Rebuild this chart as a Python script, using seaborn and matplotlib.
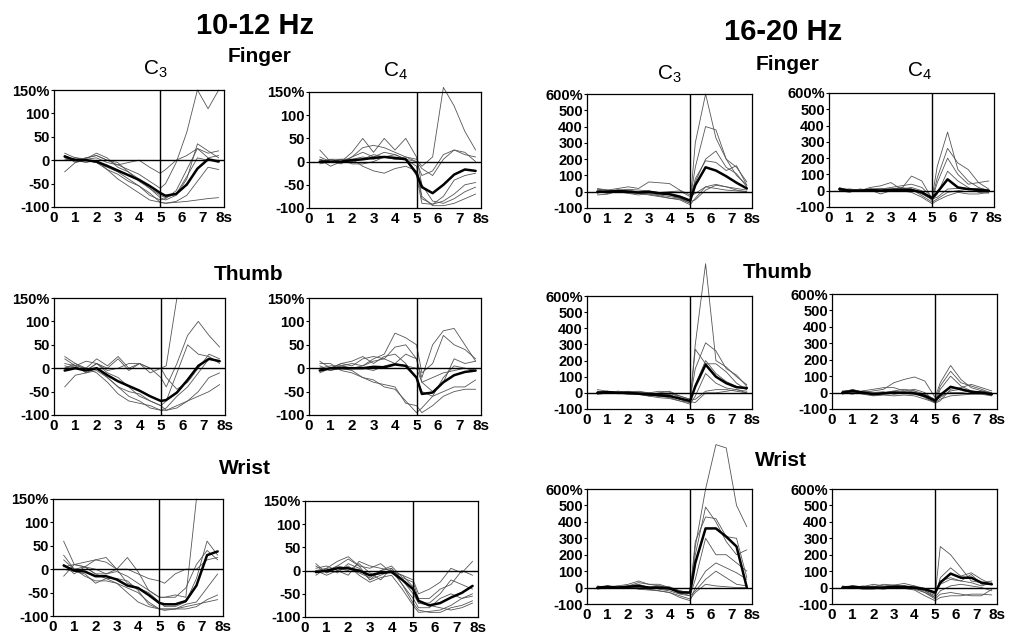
import numpy as np
import pandas as pd
import matplotlib
matplotlib.use('Agg')
import matplotlib.pyplot as plt
import seaborn as sns

sns.set_style('white')
plt.rcParams['font.family'] = ['Liberation Sans', 'DejaVu Sans']
plt.rcParams['mathtext.default'] = 'regular'
for key in ['text.color', 'axes.labelcolor', 'xtick.color', 'ytick.color']:
    plt.rcParams[key] = 'black'

nan = np.nan
# time points (s) shared by all curves
TIME = [0.5, 1.0, 1.5, 2.0, 2.5, 3.0, 3.5, 4.0, 4.5, 5.0, 5.25, 5.75, 6.25, 6.75, 7.25, 7.75]

# ---------------- 10-12 Hz ----------------
alpha_finger_c3_mean = [8, 0, 0, -3, -12, -22, -32, -42, -55, -70, -76, -72, -52, -18, 2, -3]
alpha_finger_c3 = [
    [0, 5, 2, 5, -5, -10, -20, -30, -45, -60, -50, -5, 60, 150, 110, 150],
    [10, 0, 5, 10, 0, -10, -5, 0, -15, -28, -20, 0, 10, 25, 5, 10],
    [-25, -5, 0, -5, -20, -40, -55, -70, -85, -90, -92, -90, -88, -85, -82, -80],
    [15, 5, 3, 15, 5, -15, -25, -40, -60, -80, -85, -75, -40, 35, 20, 5],
    [5, 0, -5, 0, -20, -30, -45, -55, -75, -85, -82, -65, -20, 25, 15, 20],
    [0, 5, 0, -5, -15, -25, -40, -55, -70, -90, -92, -88, -75, -45, -15, -20],
    [10, -5, 5, 10, 0, -5, -25, -45, -60, -75, -80, -72, -35, 5, 0, 0],
]
alpha_finger_c4_mean = [0, 0, 0, 3, 5, 8, 10, 8, 5, -25, -55, -68, -50, -28, -17, -20]
alpha_finger_c4 = [
    [25, 0, 5, 5, 10, 5, 10, 5, 10, 5, -10, 10, 160, 120, 65, 25],
    [0, 5, 0, 20, 50, 20, 50, 25, 50, 10, -50, -85, -90, -80, -65, -55],
    [5, 0, -5, 10, 30, 35, 30, 20, 10, 0, -30, -20, 15, 25, 15, 10],
    [0, 5, 5, 5, -10, -20, -25, -15, -10, -20, -80, -92, -85, -70, -50, -45],
    [10, 0, 0, 0, 5, 15, 10, 15, 5, -30, -90, -92, -75, -40, -30, -25],
    [5, -10, 0, 10, 20, 10, 20, 15, 5, 0, -15, -30, 5, 25, 20, 0],
    [-5, 0, 5, -5, -5, 0, 10, 5, 5, -10, -75, -95, -95, -90, -80, -70],
]
alpha_thumb_c3_mean = [-5, 0, -5, 0, -15, -28, -38, -48, -60, -70, -68, -52, -25, 5, 20, 15]
alpha_thumb_c3 = [
    [10, 5, 0, 20, 5, 25, 0, 10, 0, 0, 5, 150, nan, nan, nan, nan],
    [25, 10, -5, 10, 0, 20, -5, 10, 0, -20, -40, 10, 70, 100, 70, 45],
    [-40, -15, -10, -5, -20, -40, -50, -55, -70, -80, -70, -10, 50, 30, 25, 10],
    [0, 10, 0, -10, -30, -55, -70, -75, -80, -90, -90, -85, -70, -50, -20, -10],
    [5, 0, -5, 10, -10, -20, -40, -60, -70, -80, -90, -80, -70, -60, -50, -35],
    [20, 5, -10, 0, -20, -40, -60, -70, -85, -90, -85, -60, -40, -10, 20, 15],
    [0, 5, 15, 10, -5, 0, 10, 10, -10, 0, -20, -45, -30, 0, 30, 20],
]
alpha_thumb_c4_mean = [-5, 0, 0, 0, 0, 3, 2, 8, 5, -20, -55, -52, -30, -15, -8, -5]
alpha_thumb_c4 = [
    [15, 0, 10, 5, 20, 25, 20, 10, 30, 20, -20, 50, 80, 85, 50, 15],
    [0, 5, 5, 10, 5, 20, 30, 75, 65, 50, -10, 10, 70, 50, 40, 20],
    [-10, 0, 5, 0, 5, 15, 20, 45, 50, 20, -30, -50, -30, 20, 10, 15],
    [5, -5, 0, -5, -20, -25, -40, -45, -70, -95, -85, -60, -50, -40, -40, -25],
    [10, 10, -5, -10, -20, -30, -35, -40, -75, -80, -95, -80, -60, -50, -45, -45],
    [-5, 0, 10, 15, 25, 10, 25, 30, 10, -20, -50, -60, -20, 5, 0, -5],
    [0, -5, 5, 0, 0, -5, 5, 10, 5, 0, -30, -20, -10, -5, 0, -5],
]
alpha_wrist_c3_mean = [8, -3, -5, -15, -15, -22, -35, -40, -55, -72, -75, -75, -68, -35, 30, 38]
alpha_wrist_c3 = [
    [20, 0, 5, 0, -10, -5, -15, -30, -45, -60, -60, -55, -60, 150, nan, nan],
    [60, 10, 5, 20, 15, 0, -30, -40, -50, -70, -80, -80, -70, -20, 60, 30],
    [-15, 10, 15, 20, 25, 0, 0, -10, -20, -25, -30, -10, 0, 0, 20, 25],
    [10, -10, 5, -10, -10, 0, 25, -5, -45, -60, -60, -60, -40, 10, 40, 20],
    [30, 0, -15, -25, -25, -30, -40, -50, -70, -85, -85, -85, -80, -75, -70, -65],
    [0, -5, -10, -30, -20, -20, -25, -45, -75, -85, -88, -85, -75, -70, -40, -10],
    [5, 10, 5, -10, -20, -30, -50, -70, -80, -85, -85, -85, -85, -80, -65, -55],
]
alpha_wrist_c4_mean = [-3, 0, 5, 5, 0, -10, -5, -3, -20, -40, -65, -75, -70, -58, -48, -33]
alpha_wrist_c4 = [
    [15, -5, 10, 25, 10, 5, 15, -5, -10, -20, -50, -40, -25, 5, -5, 20],
    [-10, 5, 20, 30, 10, -20, 0, 10, -15, -25, -60, -60, -40, -30, 0, -10],
    [0, -10, 0, -10, 20, 10, 5, 0, -30, -60, -80, -80, -60, -50, -60, -55],
    [5, 10, 0, 10, -10, -25, -15, -10, -40, -75, -90, -88, -85, -75, -60, -50],
    [-5, 0, 10, 5, -5, -15, 0, 5, -20, -50, -70, -75, -80, -85, -80, -70],
    [10, -5, 5, 0, 15, -5, -20, 5, -30, -70, -85, -90, -90, -80, -75, -65],
    [0, 5, -5, 15, 5, -20, -10, 0, -10, -35, -70, -70, -50, -20, -30, -40],
]

# ---------------- 16-20 Hz ----------------
beta_finger_c3_mean = [0, 0, 5, 0, -5, 0, -10, -15, -30, -55, 40, 150, 130, 95, 55, 20]
beta_finger_c3 = [
    [10, 0, 10, 5, -5, 0, -10, -20, -40, -70, 300, 600, 330, 200, 100, 40],
    [-10, 10, 0, 10, 0, -5, -10, -15, -30, -50, 150, 400, 380, 200, 150, 60],
    [20, 10, 20, 30, 20, 60, 55, 50, 10, -20, 60, 200, 250, 150, 110, 30],
    [0, -10, 0, -5, -10, -20, -30, -40, -50, -80, -40, 30, 45, 30, 20, 10],
    [15, 10, 0, -10, -20, -10, -20, -30, -40, -60, -50, 10, 40, 30, 10, 0],
    [-20, -15, 5, 0, -5, -15, -25, -40, -45, -70, 80, 190, 180, 130, 160, 40],
    [0, 5, 10, 15, 10, 5, -5, 0, 5, -30, -10, 30, 20, 10, 5, 0],
]
beta_finger_c4_mean = [10, 0, 0, 5, 0, 5, 5, 5, -10, -45, -10, 70, 20, 10, 5, 0]
beta_finger_c4 = [
    [20, 0, 10, 0, 10, 20, 30, 40, 20, -40, 150, 360, 130, 60, 20, 0],
    [10, 10, 0, 20, 30, 50, 10, 90, 60, -50, 80, 260, 170, 130, 50, 60],
    [0, -10, 10, 5, -20, 0, 10, 20, 0, -60, -20, 120, 60, 20, -10, -15],
    [5, 5, -5, 10, 5, 10, 15, 10, -30, -70, -50, -10, 0, 10, 15, 5],
    [-5, 0, 5, 0, 10, 5, 0, -10, -40, -80, -60, -30, -10, -20, -20, -10],
    [15, 5, 0, 10, 15, 10, 20, 10, -20, -55, 50, 200, 100, 40, 50, 10],
    [0, 10, 5, -5, 0, 5, 10, 5, -15, -50, -40, 10, 15, 10, 5, 0],
]
beta_thumb_c3_mean = [0, 5, 0, 0, -5, -10, -15, -20, -35, -50, 40, 175, 100, 60, 35, 30]
beta_thumb_c3 = [
    [10, 0, 5, 0, -5, -10, -20, -20, -40, -50, 300, 800, 200, 160, 100, 50],
    [20, 10, 0, 10, 0, -10, 0, 10, -20, -40, 150, 310, 260, 150, 110, 40],
    [0, 5, 10, 5, 0, -20, -10, -10, -40, -60, 270, 180, 180, 130, 60, 20],
    [-10, 0, 0, -10, -10, -20, -30, -35, -50, -70, -20, 120, 60, 30, 20, 10],
    [10, 5, 0, 5, 10, 0, -10, -5, -20, -40, -40, 10, 20, 20, 10, 0],
    [5, 10, -5, 0, -10, -15, -20, -30, -50, -60, 50, 200, 120, 70, 40, 20],
    [-5, 0, 10, 5, 5, 0, 10, 5, -30, -55, -60, 0, 0, 10, 20, 0],
]
beta_thumb_c4_mean = [0, 10, 0, -10, -5, 0, 0, -5, -20, -50, -15, 35, 20, 5, 0, -10]
beta_thumb_c4 = [
    [-10, 10, 0, 10, 20, 60, 80, 95, 70, -30, 60, 165, 80, 30, 10, 0],
    [5, 0, 10, 20, 30, 30, 10, 20, 0, -50, 40, 130, 60, 40, 20, -5],
    [0, 20, 0, -10, 0, 10, 20, 10, -30, -60, 20, 100, 40, 10, 0, -20],
    [-5, 5, -10, -20, -15, -20, -15, -20, -40, -60, -40, -20, -15, -10, -10, -20],
    [0, -10, 10, 0, 5, -10, 0, -5, -30, -65, -50, 20, 30, 50, 30, 10],
    [10, 15, 5, -5, 0, 5, -5, 0, -15, -40, -20, 0, 0, 10, 0, -10],
    [-5, 0, 5, -10, -5, -5, 0, 10, -10, -45, -30, 10, 20, 0, 10, -5],
]
beta_wrist_c3_mean = [0, 5, 0, 5, 10, 0, 0, -5, -30, -30, 150, 360, 360, 310, 250, 0]
beta_wrist_c3 = [
    [0, 10, 0, 5, 0, -10, -5, -10, -20, -30, 250, 600, 870, 850, 500, 370],
    [10, 0, 5, 10, 20, 0, 10, 5, -20, -40, 200, 490, 400, 280, 200, 230],
    [0, 5, 10, 20, 40, 20, 10, 0, -20, -30, 280, 430, 420, 310, 300, 60],
    [-10, 0, 5, 0, 10, 5, -10, -20, -40, -50, 50, 300, 200, 200, 150, 100],
    [5, -5, 0, 5, -10, -15, -20, -30, -60, -80, 0, 100, 150, 120, 90, 50],
    [0, 10, 0, 10, 30, 20, 20, 0, -30, -50, -20, 50, 100, 60, 20, 10],
    [-5, 0, 10, -5, 0, -10, -20, -30, -50, -70, -30, 20, 10, 5, 0, 0],
]
beta_wrist_c4_mean = [0, 5, 0, 0, 0, 5, 5, 0, -10, -30, 30, 85, 60, 60, 30, 20]
beta_wrist_c4 = [
    [5, 0, 10, 5, 20, 15, 25, 10, -20, -50, 250, 200, 120, 40, 30, 40],
    [0, 10, 0, 10, -5, 0, 10, 0, -30, -60, 60, 120, 70, 90, 50, 20],
    [-5, 0, -10, -10, 0, 5, 0, -10, -30, -70, -40, -30, -40, -50, -50, -10],
    [10, 0, 5, -5, -10, 0, -5, -15, -50, -80, -60, -50, -50, -40, -40, -45],
    [0, 5, 5, 20, 10, 15, 5, 10, -5, -40, 20, 50, 40, 80, 20, 20],
    [5, -5, 0, 0, 5, 0, -5, -5, -20, -60, -20, 10, 20, 10, 0, -20],
    [0, 10, 5, 0, 0, 10, 10, 0, -15, -40, 40, 60, 40, 30, 10, 30],
]

X_LABELS = ['0', '1', '2', '3', '4', '5', '6', '7', '8s']
ALPHA_TICKS = [-100, -50, 0, 50, 100, 150]
ALPHA_LABELS = ['-100', '-50', '0', '50', '100', '150%']
BETA_TICKS = [-100, 0, 100, 200, 300, 400, 500, 600]
BETA_LABELS = ['-100', '0', '100', '200', '300', '400', '500', '600%']

W, H = 1009, 638
fig = plt.figure(figsize=(W / 100, H / 100), dpi=100)

# panel boxes in pixels: left, right, top, bottom
panels = [
    ((54, 224, 90, 207), alpha_finger_c3, alpha_finger_c3_mean, 'a'),
    ((309, 481, 92, 208), alpha_finger_c4, alpha_finger_c4_mean, 'a'),
    ((587, 752, 94, 208), beta_finger_c3, beta_finger_c3_mean, 'b'),
    ((829, 994, 93, 207), beta_finger_c4, beta_finger_c4_mean, 'b'),
    ((54, 225, 298, 415), alpha_thumb_c3, alpha_thumb_c3_mean, 'a'),
    ((309, 481, 298, 415), alpha_thumb_c4, alpha_thumb_c4_mean, 'a'),
    ((587, 752, 296, 409), beta_thumb_c3, beta_thumb_c3_mean, 'b'),
    ((832, 997, 294, 409), beta_thumb_c4, beta_thumb_c4_mean, 'b'),
    ((53, 223, 499, 616), alpha_wrist_c3, alpha_wrist_c3_mean, 'a'),
    ((305, 478, 501, 617), alpha_wrist_c4, alpha_wrist_c4_mean, 'a'),
    ((587, 752, 489, 604), beta_wrist_c3, beta_wrist_c3_mean, 'b'),
    ((832, 997, 489, 604), beta_wrist_c4, beta_wrist_c4_mean, 'b'),
]

for (l, r, t, b), trials, mean, band in panels:
    ax = fig.add_axes([l / W, 1 - b / H, (r - l) / W, (b - t) / H])
    rows = []
    for i, tr in enumerate(trials):
        for x, v in zip(TIME, tr):
            rows.append({'time': x, 'value': v, 'trial': i})
    df = pd.DataFrame(rows)
    sns.lineplot(data=df, x='time', y='value', units='trial', estimator=None,
                 color='#555555', lw=0.6, ax=ax, legend=False)
    sns.lineplot(x=TIME, y=mean, color='black', lw=1.8, ax=ax)
    for ln in ax.lines:
        ln.set_clip_on(False)
    ax.axvline(5, color='black', lw=1.0)
    ax.axhline(0, color='black', lw=1.0)
    ax.set_xlim(0, 8)
    ax.set_xticks(range(9))
    ax.set_xticklabels(X_LABELS, fontweight='bold', fontsize=11)
    if band == 'a':
        ax.set_ylim(-100, 150)
        ax.set_yticks(ALPHA_TICKS)
        ax.set_yticklabels(ALPHA_LABELS, fontweight='bold', fontsize=10.5)
    else:
        ax.set_ylim(-100, 600)
        ax.set_yticks(BETA_TICKS)
        ax.set_yticklabels(BETA_LABELS, fontweight='bold', fontsize=10.5)
    ax.tick_params(axis='x', length=0, pad=3)
    ax.tick_params(axis='y', length=2, pad=1, direction='out', left=True)
    ax.set_xlabel('')
    ax.set_ylabel('')
    for s in ax.spines.values():
        s.set_color('black')
        s.set_linewidth(0.9)


def ftext(x, y, s, **kw):
    fig.text(x / W, 1 - y / H, s, **kw)


ftext(255, 26, '10-12 Hz', ha='center', va='center', fontsize=21, fontweight='bold')
ftext(783, 32, '16-20 Hz', ha='center', va='center', fontsize=21, fontweight='bold')
for x, y, s in [(260, 57, 'Finger'), (788, 65, 'Finger'), (249, 274, 'Thumb'),
                (778, 272, 'Thumb'), (245, 468, 'Wrist'), (781, 460, 'Wrist')]:
    ftext(x, y, s, ha='center', va='center', fontsize=15, fontweight='bold')
for x, y, s in [(143, 75, 'C$_3$'), (383, 77, 'C$_4$'), (657, 80, 'C$_3$'), (907, 77, 'C$_4$')]:
    ftext(x, y, s, ha='left', va='baseline', fontsize=15)

fig.savefig('out.png', dpi=100)
